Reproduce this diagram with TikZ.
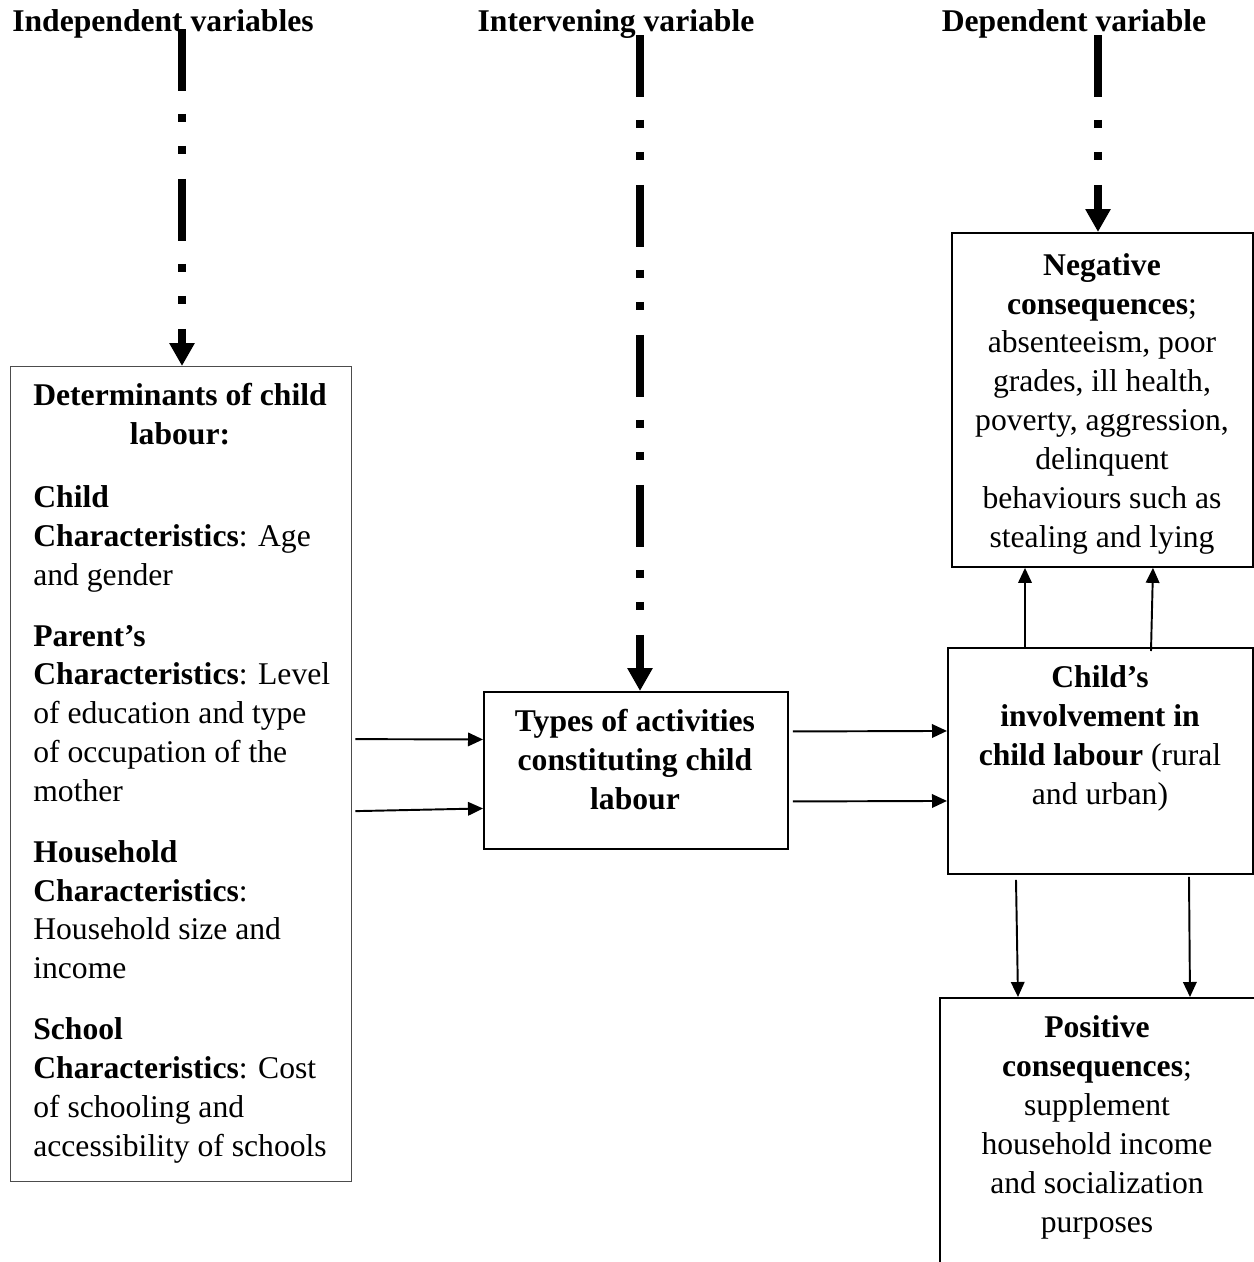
\documentclass[tikz,border=0pt]{standalone}
\usepackage{fontspec}
\setmainfont{Liberation Serif}
\usetikzlibrary{arrows.meta}
\usetikzlibrary{calc}
\tikzset{box/.style={draw=black, line width=1.1pt, inner sep=0pt, anchor=north west}}
\tikzset{detBox/.style={draw=black!70!white, line width=0.8pt, inner sep=0pt, anchor=north west}}
\tikzset{boxText/.style={font=\fontsize{18}{22.1}\selectfont, inner sep=0pt, align=center, anchor=base}}
\tikzset{varFlow/.style={line width=4pt, dash pattern=on 1.24cm off 0.46cm on 0.16cm off 0.48cm on 0.16cm off 0.5cm, -{Triangle[length=0.46cm,width=0.48cm]}}}
\tikzset{flow/.style={line width=1.1pt, -{Triangle[length=0.3cm,width=0.27cm]}}}

\begin{document}
\begin{tikzpicture}[x=0.02cm,y=-0.02cm]
\useasboundingbox (0,0) rectangle (1254,1262);

% variable headings
\node[boxText] (indepLabel) at (163,31) {\textbf{Independent variables}};
\node[boxText] (intervLabel) at (616,31) {\textbf{Intervening variable}};
\node[boxText] (depLabel) at (1074,31) {\textbf{Dependent variable}};

% boxes
\node[detBox, minimum width=6.82cm, minimum height=16.3cm] (detBox) at (10,366) {};
\node[box, minimum width=6.08cm, minimum height=3.14cm] (typesBox) at (483,691) {};
\node[box, minimum width=6.1cm, minimum height=4.52cm] (childBox) at (947,647) {};
\node[box, minimum width=6.02cm, minimum height=6.68cm] (negBox) at (951,232) {};
\node[box, minimum width=8cm, minimum height=6cm] (posBox) at (939,997) {};

% determinants (anchored on the last baseline)
\node[boxText] (detHead) at (180,444) {\textbf{Determinants of child}\\\textbf{labour:}};
\node[boxText, align=left, anchor=base west] (detText) at (33,1156) {
  \textbf{Child}\\
  \textbf{Characteristics}: Age\\
  and gender\\[12.5pt]
  \textbf{Parent’s}\\
  \textbf{Characteristics}: Level\\
  of education and type\\
  of occupation of the\\
  mother\\[12.5pt]
  \textbf{Household}\\
  \textbf{Characteristics}:\\
  Household size and\\
  income\\[12.5pt]
  \textbf{School}\\
  \textbf{Characteristics}: Cost\\
  of schooling and\\
  accessibility of schools};

% types of activities
\node[boxText] (typesText) at (635,809) {\textbf{Types of activities}\\\textbf{constituting child}\\\textbf{labour}};

% involvement
\node[boxText] (childText) at (1100,804) {\textbf{Child’s}\\\textbf{involvement in}\\\textbf{child labour} (rural\\and urban)};

% consequences
\node[boxText] (negText) at (1102,547) {\textbf{Negative}\\\textbf{consequences};\\absenteeism, poor\\grades, ill health,\\poverty, aggression,\\delinquent\\behaviours such as\\stealing and lying};
\node[boxText] (posText) at (1097,1232) {\textbf{Positive}\\\textbf{consequences};\\supplement\\household income\\and socialization\\purposes};

% dash-dot links from the headings
\coordinate (indepTop) at (182,29);
\coordinate (intervTop) at (640,35);
\coordinate (depTop) at (1098,35);
\draw[varFlow] (indepTop) -- (indepTop |- detBox.north);
\draw[varFlow] (intervTop) -- (intervTop |- typesBox.north);
\draw[varFlow] (depTop) -- (depTop |- negBox.north);

% links between boxes
\draw[flow] ($(detBox.east)+(3,-35)$) -- ($(typesBox.west)+(0,-31)$);
\draw[flow] ($(detBox.east)+(3,37)$) -- ($(typesBox.west)+(0,38)$);
\draw[flow] ($(typesBox.east)+(4,-39)$) -- ($(childBox.west)+(0,-30)$);
\draw[flow] ($(typesBox.east)+(4,31)$) -- ($(childBox.west)+(0,40)$);
\draw[flow] ($(childBox.north west)+(78,0)$) -- ($(negBox.south west)+(74,0)$);
\draw[flow] ($(childBox.north west)+(204,4)$) -- ($(negBox.south west)+(202,0)$);
\draw[flow] ($(childBox.south west)+(69,5)$) -- ($(posBox.north west)+(79,0)$);
\draw[flow] ($(childBox.south west)+(242,2)$) -- ($(posBox.north west)+(251,0)$);
\end{tikzpicture}
\end{document}
